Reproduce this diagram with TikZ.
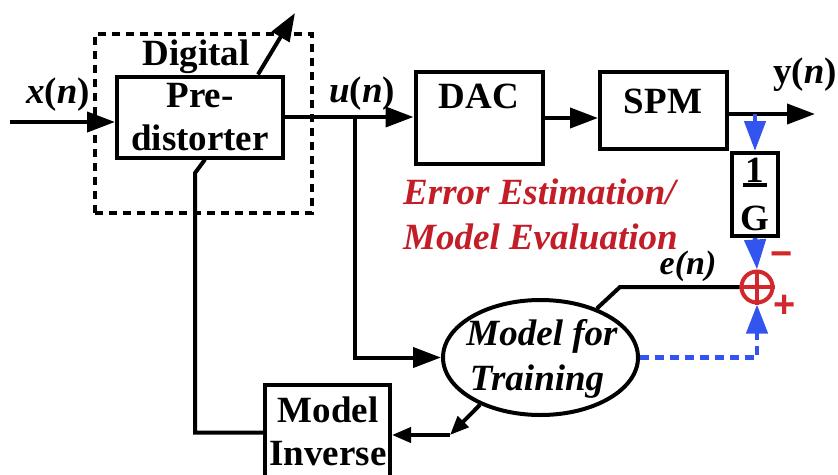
\documentclass[tikz,border=0pt]{standalone}
\usepackage{fontspec}
\setmainfont{Liberation Serif}
\newfontfamily\signfont{Liberation Sans}
\usetikzlibrary{arrows.meta,shapes.geometric}
\definecolor{sigblue}{RGB}{50,85,240}
\definecolor{sumred}{RGB}{210,40,45}
\definecolor{notered}{RGB}{195,30,40}
\begin{document}
\begin{tikzpicture}[x=1pt,y=-1pt,
  blk/.style={draw,line width=4pt,inner sep=0pt},
  wire/.style={line width=4pt},
  arr/.style={wire,-{Triangle[length=28pt,width=20pt]}},
  sarr/.style={wire,-{Triangle[length=19pt,width=15pt]}},
  barr/.style={line width=4.5pt,sigblue,-{Triangle[length=30pt,width=21pt]}},
  lbl/.style={font=\fontsize{37}{40}\selectfont\bfseries,inner sep=0pt,anchor=base},
  signs/.style={text=sumred,font=\signfont\bfseries\fontsize{38}{38}\selectfont,inner sep=0pt},
]
\useasboundingbox (0,0) rectangle (838,474);
\fill[white] (0,0) rectangle (838,474);
\clip (0,0) rectangle (838,474);

% blocks
\node[draw,line width=4pt,dash pattern=on 8pt off 6pt,minimum width=217pt,minimum height=179pt,inner sep=0pt] (dpd) at (203.5,123.5) {};
\node[blk,minimum width=166pt,minimum height=81pt] (pd) at (200,117) {};
\node[blk,minimum width=127pt,minimum height=92pt] (dac) at (479,118) {};
\node[blk,minimum width=127pt,minimum height=77pt] (spm) at (663.5,110.5) {};
\node[blk,minimum width=46pt,minimum height=83pt] (ginv) at (755,194.5) {};
\node[blk,minimum width=125pt,minimum height=95pt] (minv) at (327.5,432.5) {};
\node[ellipse,draw,line width=4pt,minimum width=195pt,minimum height=115pt,inner sep=0pt] (ell) at (540.5,357.5) {};
\node[circle,draw=sumred,line width=4pt,minimum size=31pt,inner sep=0pt] (sum) at (757,287) {};
\draw[sumred,line width=3.5pt] (sum.north) -- (sum.south) (sum.west) -- (sum.east);

% block texts
\node[lbl] (t1) at (196,65) {Digital};
\node[lbl] (t2) at (200,107) {Pre-};
\node[lbl] (t3) at (200,150) {distorter};
\node[lbl] (tdac) at (479,108) {DAC};
\node[lbl] (tspm) at (663,113) {SPM};
\node[lbl] (tone) at (755,182) {1};
\node[lbl] (tg) at (755,230) {G};
\draw[line width=3.5pt] (743,185) -- (767,185);
\node[lbl] (tm1) at (328,422) {Model};
\node[lbl] (tm2) at (328,465) {Inverse};
\node[lbl,font=\fontsize{37}{40}\selectfont\bfseries\itshape] (te1) at (542,345) {Model for};
\node[lbl,font=\fontsize{37}{40}\selectfont\bfseries\itshape] (te2) at (537,390) {Training};

% signal labels
\node[lbl] (lx) at (58,103) {\textit{x}(\textit{n})};
\node[lbl] (lu) at (362,102) {\textit{u}(\textit{n})};
\node[lbl] (ly) at (805,83) {y(\textit{n})};
\node[lbl,font=\fontsize{34}{40}\selectfont\bfseries\itshape] (le) at (688,274) {e(n)};
\node[lbl,anchor=base west,text=notered,font=\fontsize{37}{40}\selectfont\bfseries\itshape] (err1) at (403,204) {Error Estimation/};
\node[lbl,anchor=base west,text=notered,font=\fontsize{37}{40}\selectfont\bfseries\itshape] (err2) at (403,249) {Model Evaluation};
\node[signs] (minus) at (782,259) {−};
\node[signs] (plus) at (785,306) {+};

% connectors
\coordinate (xin) at (10,122);
\coordinate (br) at (355,117);
\coordinate (yout) at (815,114);
\coordinate (adj) at (295,13);
\coordinate (ebend) at (620,287);
\coordinate (icorner) at (450,435);
\coordinate (fb) at (195,173);

\draw[arr] (xin) -- (xin -| pd.west);
\draw[arr] (pd.east) -- (pd.east -| dac.west);
\draw[arr] (br) |- (ell.west);
\draw[arr] (dac.east) -- (dac.east -| spm.west);
\draw[arr] (yout -| spm.east) -- (yout);
\draw[arr] ([xshift=58pt]pd.north) -- (adj);

\draw[barr] (ginv.north |- yout) -- (ginv.north);
\draw[barr] (ginv.south) -- (sum.north);
\draw[sigblue,line width=4.5pt,dash pattern=on 9pt off 6pt,-{Triangle[length=29pt,width=21pt]}] (ell.east) -| (sum.south);

\draw[wire] (sum.west) -- (ebend) -- (ell.41);
\draw[sarr] (ell.218) -- (icorner);
\draw[sarr] (icorner) -- (icorner -| minv.east);
\draw[wire] (minv.west) -| (fb) -- ([xshift=5pt]pd.south);
\end{tikzpicture}
\end{document}
